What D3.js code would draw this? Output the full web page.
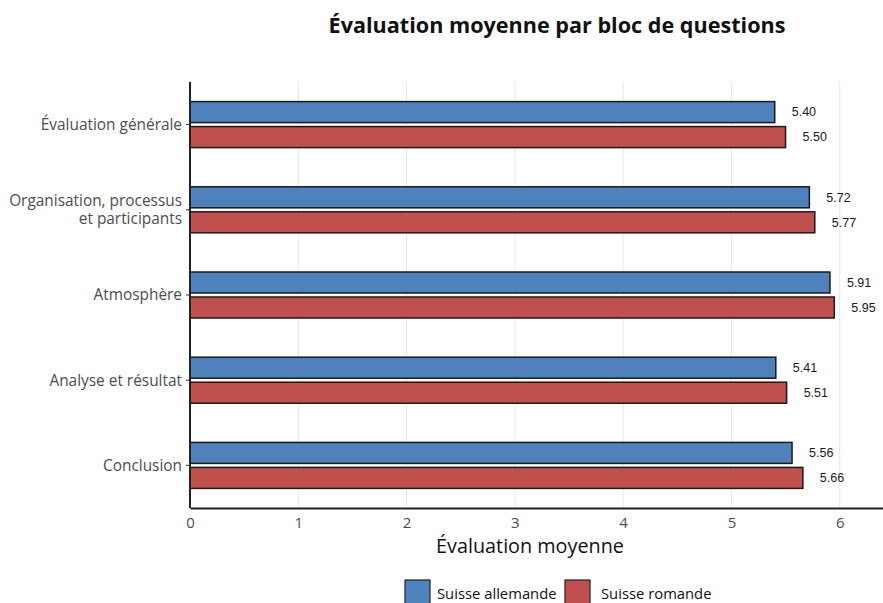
<!DOCTYPE html>
<html>
<head>
<meta charset="utf-8">
<script src="https://cdn.jsdelivr.net/npm/d3@7"></script>
<style>
  body { margin: 0; background: #fff; }
  text { font-family: "Open Sans", "Noto Sans", sans-serif; }
</style>
</head>
<body>
<svg id="chart" width="883" height="603"></svg>
<script>
// data
var categories = ["Évaluation générale", "Organisation, processus\net participants", "Atmosphère", "Analyse et résultat", "Conclusion"];
var seriesNames = ["Suisse allemande", "Suisse romande"];
var allemande = [5.40, 5.72, 5.91, 5.41, 5.56];
var romande = [5.50, 5.77, 5.95, 5.51, 5.66];
var xTicks = [0, 1, 2, 3, 4, 5, 6];
var colors = ["#4F81BD", "#C0504D"];

var svg = d3.select("#chart");
var plotLeft = 190, plotRight = 883, plotTop = 82, plotBottom = 508;

var x = d3.scaleLinear().domain([0, 6.4]).range([plotLeft, plotRight]);
var y = d3.scaleBand().domain(categories).range([plotTop, plotBottom]);
var sub = d3.scaleBand().domain(seriesNames).range([-23, 23]).paddingInner(0.16);

// vertical grid lines
svg.append("g")
  .selectAll("line")
  .data(xTicks)
  .enter()
  .append("line")
    .attr("x1", function(d) { return x(d); })
    .attr("x2", function(d) { return x(d); })
    .attr("y1", plotTop)
    .attr("y2", plotBottom)
    .attr("stroke", "#e8e8e8")
    .attr("stroke-width", 1);

// bars
var rows = categories.map(function(c, i) {
  return [{cat: c, s: seriesNames[0], v: allemande[i]}, {cat: c, s: seriesNames[1], v: romande[i]}];
});
var flat = [].concat.apply([], rows);

svg.append("g")
  .selectAll("rect")
  .data(flat)
  .enter()
  .append("rect")
    .attr("x", x(0))
    .attr("y", function(d) { return y(d.cat) + y.bandwidth() / 2 + sub(d.s); })
    .attr("width", function(d) { return x(d.v) - x(0); })
    .attr("height", sub.bandwidth())
    .attr("fill", function(d) { return d.s === seriesNames[0] ? colors[0] : colors[1]; })
    .attr("stroke", "#1a1a1a")
    .attr("stroke-width", 1.5);

// value labels
svg.append("g")
  .selectAll("text")
  .data(flat)
  .enter()
  .append("text")
    .attr("x", function(d) { return x(d.v) + 17; })
    .attr("y", function(d) { return y(d.cat) + y.bandwidth() / 2 + sub(d.s) + sub.bandwidth() / 2; })
    .attr("dy", "0.35em")
    .style("font-family", "'Liberation Sans', Arial, sans-serif")
    .style("font-size", "12.5px")
    .attr("fill", "#1a1a1a")
    .text(function(d) { return d.v.toFixed(2); });

// y axis
var yAxis = svg.append("g")
  .attr("transform", "translate(" + plotLeft + ",0)")
  .call(d3.axisLeft(y).tickSize(4).tickPadding(3).tickFormat(""));
yAxis.select(".domain").attr("stroke", "#222").attr("stroke-width", 2).attr("d", "M0," + plotTop + "V" + plotBottom);
yAxis.selectAll(".tick line").attr("stroke", "#333");

// category labels (two lines for the long one)
var ylab = svg.append("g").selectAll("text")
  .data(categories)
  .enter()
  .append("text")
    .attr("text-anchor", "end")
    .attr("fill", "#4d4d4d")
    .style("font-size", "15.4px")
    .attr("x", plotLeft - 8)
    .attr("y", function(d) { return y(d) + y.bandwidth() / 2; });
ylab.each(function(d) {
  var lines = d.split("\n");
  var t = d3.select(this);
  lines.forEach(function(l, i) {
    t.append("tspan")
      .attr("x", plotLeft - 8)
      .attr("dy", i === 0 ? (0.35 - (lines.length - 1) * 0.58) + "em" : "1.16em")
      .text(l);
  });
});

// x axis
var xAxis = svg.append("g")
  .attr("transform", "translate(0," + plotBottom + ")")
  .call(d3.axisBottom(x).tickValues(xTicks).tickSize(0).tickPadding(9).tickFormat(d3.format("d")));
xAxis.select(".domain").attr("stroke", "#222").attr("stroke-width", 2);
xAxis.selectAll("text")
  .attr("fill", "#4d4d4d")
  .style("font-size", "15px")
  .style("font-family", "'Open Sans', sans-serif");

// titles
svg.append("text")
  .attr("x", 557)
  .attr("y", 33)
  .attr("text-anchor", "middle")
  .style("font-size", "21.6px")
  .style("font-weight", "bold")
  .attr("fill", "#111")
  .text("Évaluation moyenne par bloc de questions");

svg.append("text")
  .attr("x", 530)
  .attr("y", 553)
  .attr("text-anchor", "middle")
  .style("font-size", "19.8px")
  .attr("fill", "#111")
  .text("Évaluation moyenne");

// legend
var legendX = [405, 565];
var leg = svg.append("g").selectAll("g")
  .data(seriesNames)
  .enter()
  .append("g")
    .attr("transform", function(d, i) { return "translate(" + legendX[i] + ",580)"; });
leg.append("rect")
  .attr("width", 25)
  .attr("height", 30)
  .attr("fill", function(d, i) { return colors[i]; })
  .attr("stroke", "#222")
  .attr("stroke-width", 1.2);
leg.append("text")
  .attr("x", function(d, i) { return i === 0 ? 32 : 36; })
  .attr("y", 14)
  .attr("dy", "0.35em")
  .style("font-size", "14.8px")
  .attr("fill", "#111")
  .text(function(d) { return d; });
</script>
</body>
</html>
